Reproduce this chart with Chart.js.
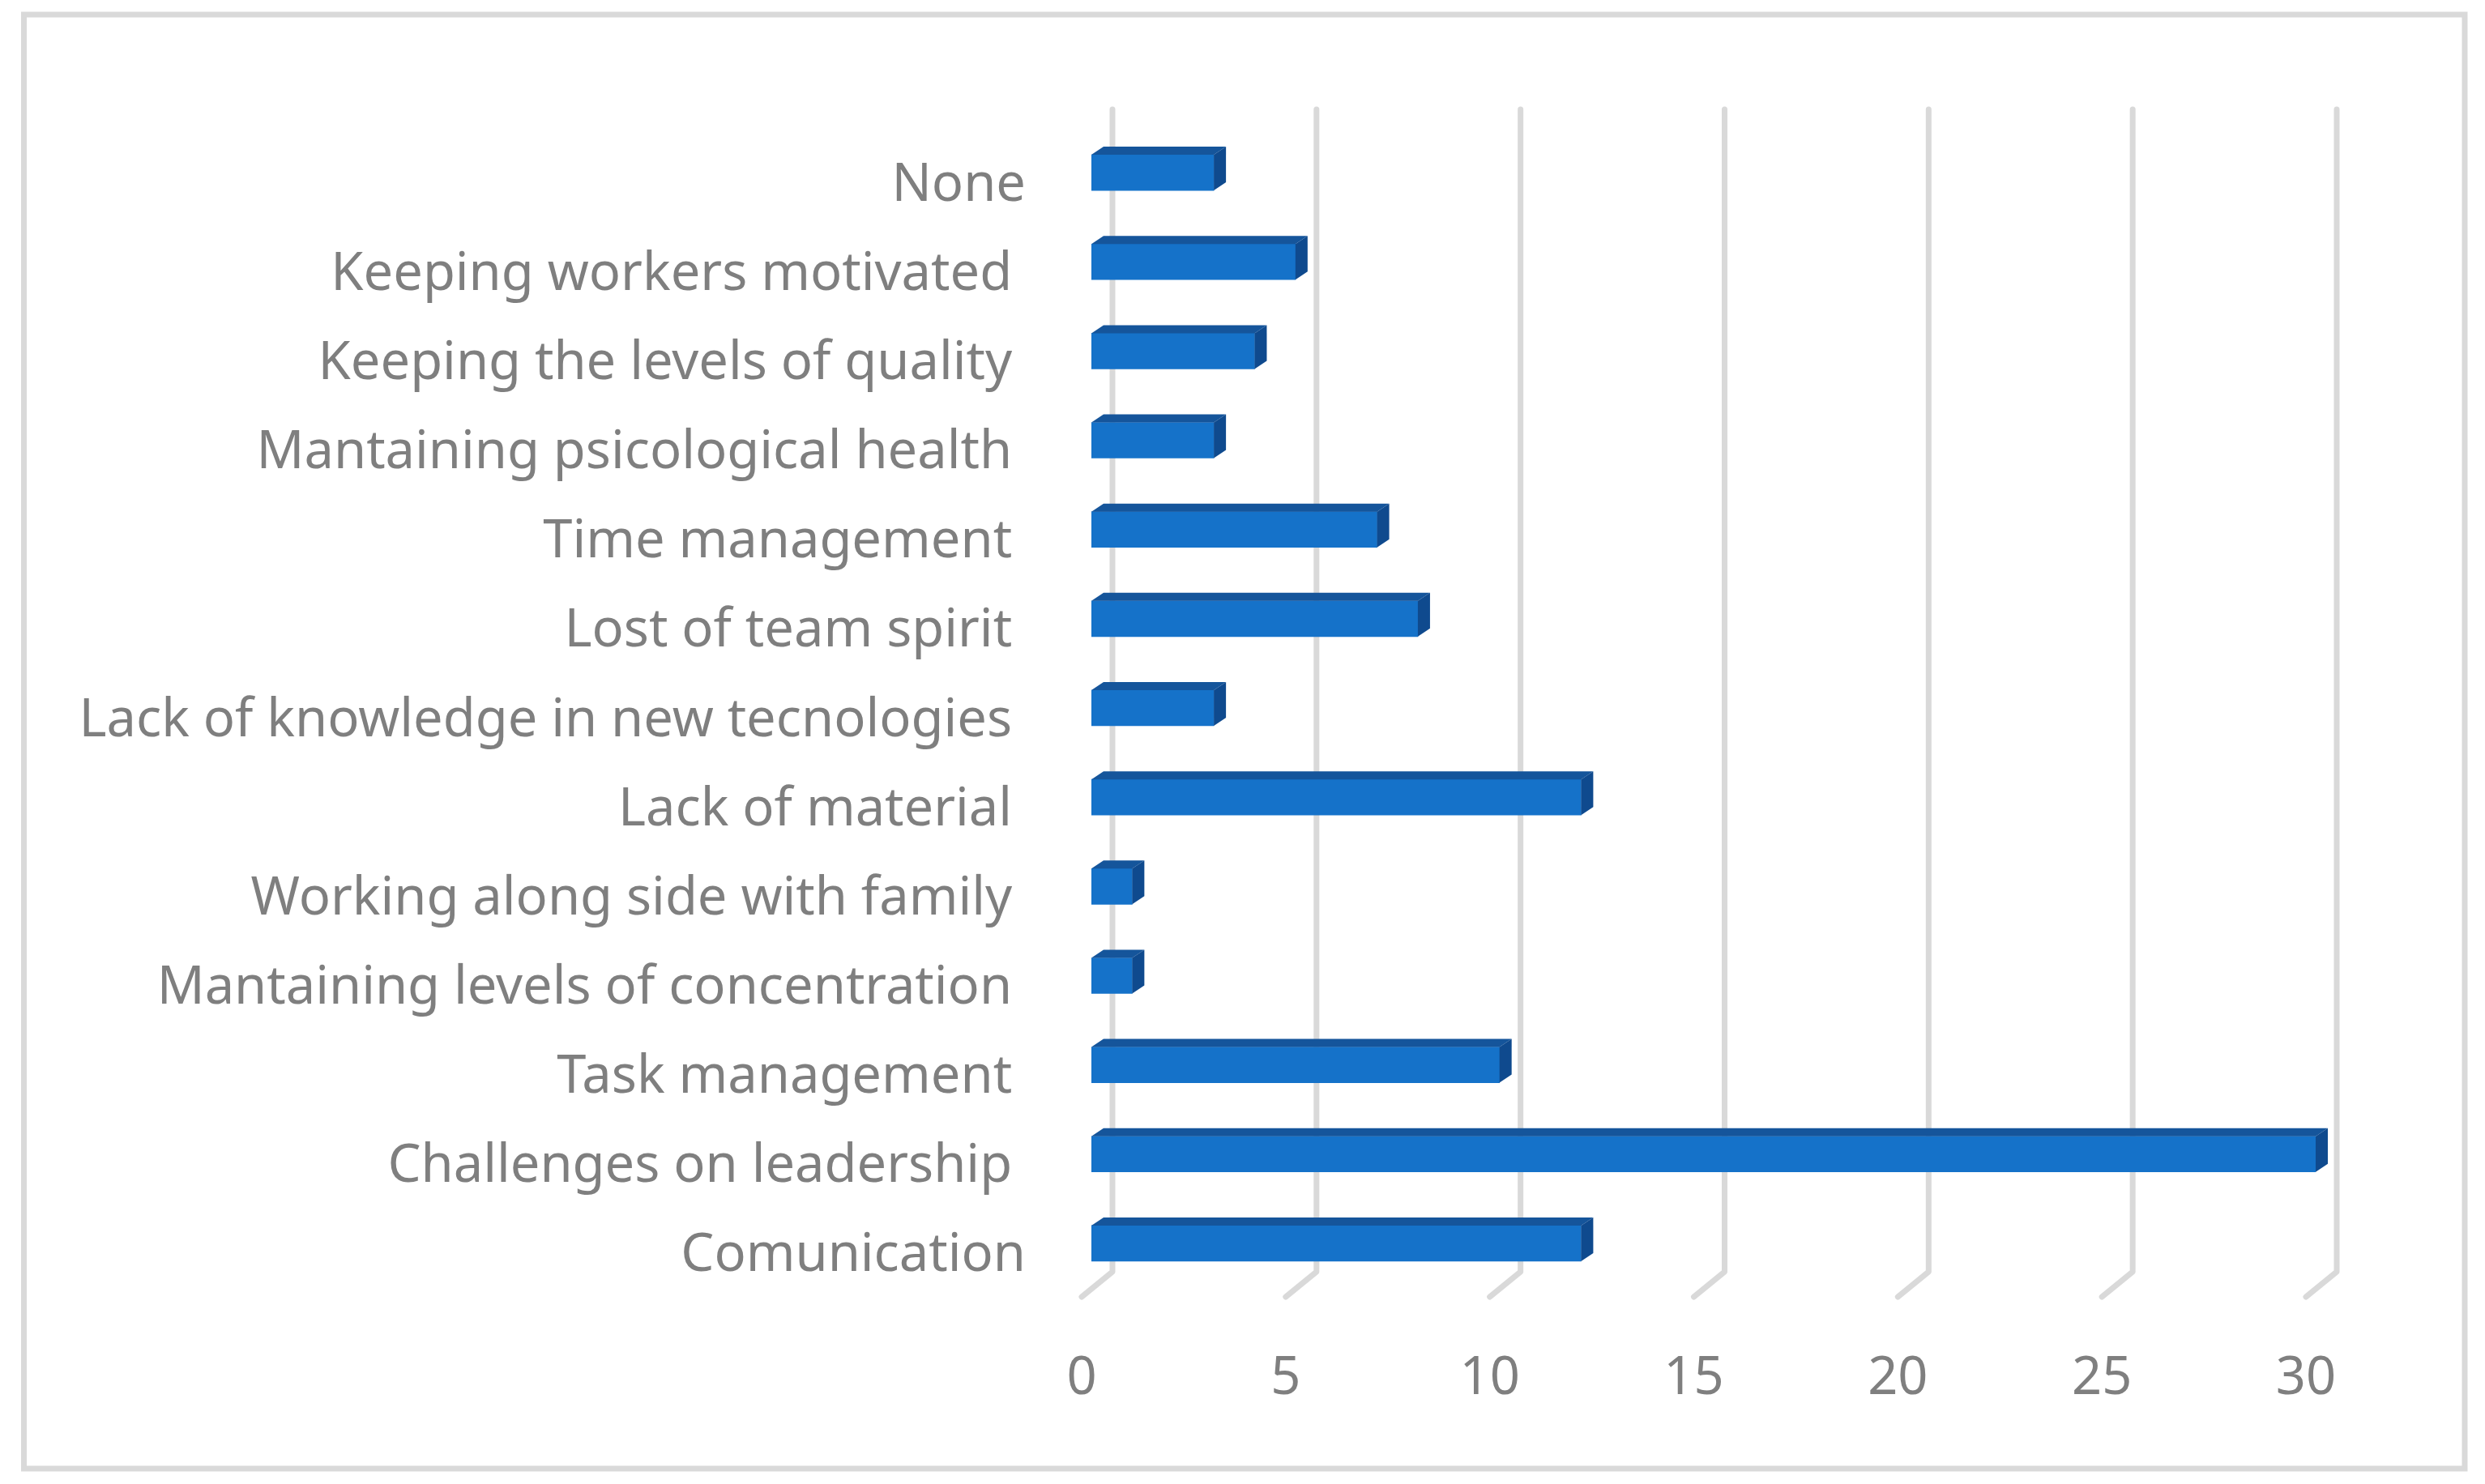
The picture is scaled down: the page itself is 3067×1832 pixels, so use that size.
<!DOCTYPE html>
<html>
<head>
<meta charset="utf-8">
<style>html,body{margin:0;padding:0;background:#fff}canvas{display:block}</style>
<script src="https://cdn.jsdelivr.net/npm/chart.js@4/dist/chart.umd.min.js"></script>
</head>
<body>
<div style="width:3067px;height:1832px"><canvas id="c" width="3067" height="1832"></canvas></div>
<script>
const categories = ["None","Keeping workers motivated ","Keeping the levels of quality ","Mantaining psicological health ","Time management ","Lost of team spirit ","Lack of knowledge in new tecnologies ","Lack of material ","Working along side with family ","Mantaining levels of concentration ","Task management ","Challenges on leadership ","Comunication"];
const values = [3,5,4,3,7,8,3,12,1,1,10,30,12];
const FONT = '"Noto Sans"', TXT = '#7f7f7f', GRID = '#d9d9d9';
const DX = 15, DY = 10;

const frame = {id:'frame', beforeDraw(ch){
  const c = ch.ctx; c.save();
  c.fillStyle='#fff'; c.fillRect(0,0,ch.width,ch.height);
  c.strokeStyle=GRID; c.lineWidth=7; c.strokeRect(29.5,18,3012.5,1795);
  c.restore();
}};
const wall = {id:'wall', beforeDatasetsDraw(ch){
  const c = ch.ctx, a = ch.chartArea, s = ch.scales.x;
  c.save(); c.strokeStyle=GRID; c.lineWidth=7; c.lineJoin='round'; c.lineCap='round';
  s.ticks.forEach((t,i)=>{
    const x = s.getPixelForTick(i);
    c.beginPath();
    c.moveTo(x+26,a.top-23);
    c.lineTo(x+26,a.bottom-20);
    c.lineTo(x-12,a.bottom+11);
    c.stroke();
  });
  c.restore();
}};
const depth = {id:'depth', afterDatasetsDraw(ch){
  const c = ch.ctx; c.save();
  ch.getDatasetMeta(0).data.forEach(b=>{
    const h=b.height/2, t=b.y-h, e=b.y+h, l=b.base, r=b.x;
    c.fillStyle='#15559b';
    c.beginPath();c.moveTo(l,t);c.lineTo(l+DX,t-DY);c.lineTo(r+DX,t-DY);c.lineTo(r,t);c.closePath();c.fill();
    c.fillStyle='#0f4a8e';
    c.beginPath();c.moveTo(r,t);c.lineTo(r+DX,t-DY);c.lineTo(r+DX,e-DY);c.lineTo(r,e);c.closePath();c.fill();
  });
  c.restore();
}};

new Chart(document.getElementById('c'),{
  type:'bar',
  data:{labels:categories,datasets:[{data:values,backgroundColor:'#1572c9',barThickness:44,borderWidth:0}]},
  options:{
    indexAxis:'y',responsive:false,animation:false,
    layout:{padding:{top:158,right:209,left:0,bottom:0}},
    plugins:{legend:{display:false},title:{display:false},tooltip:{enabled:false}},
    scales:{
      x:{min:0,max:30,ticks:{stepSize:5,color:TXT,font:{family:FONT,size:65},labelOffset:-12,padding:65,maxRotation:0},
         grid:{display:false},border:{display:false},
         afterFit(s){s.height=242;}},
      y:{ticks:{color:TXT,font:{family:FONT,size:65},labelOffset:16,padding:73,autoSkip:false},
         grid:{display:false},border:{display:false},
         afterFit(s){s.width=1347;}}
    }
  },
  plugins:[frame,wall,depth]
});
</script>
</body>
</html>
